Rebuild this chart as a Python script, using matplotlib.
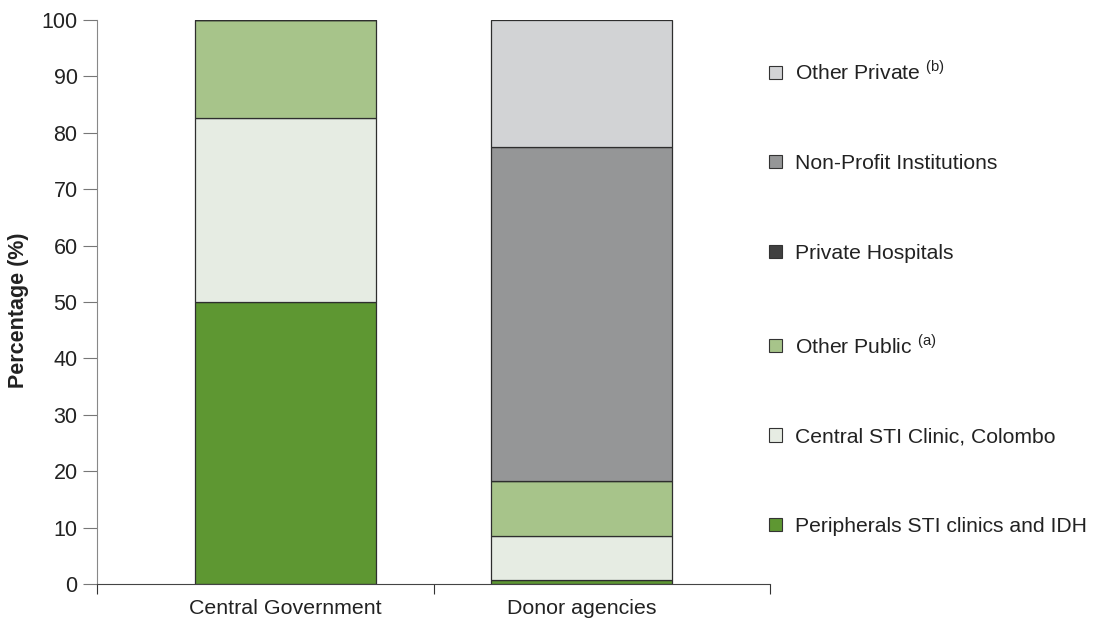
import numpy as np
import matplotlib
matplotlib.use("Agg")
import matplotlib.pyplot as plt
from matplotlib.patches import Patch

plt.rcParams['font.family'] = ['Liberation Sans', 'DejaVu Sans']
plt.rcParams['mathtext.fontset'] = 'custom'
plt.rcParams['mathtext.rm'] = 'Liberation Sans'

# data
sources = ['Central Government', 'Donor agencies']
peripheral = [50.0, 0.7]
central_sti = [32.7, 7.8]
other_public = [17.3, 9.8]
private_hosp = [0.0, 0.0]
non_profit = [0.0, 59.2]
other_private = [0.0, 22.5]

series = [
    ('Peripherals STI clinics and IDH', peripheral, '#5e9732'),
    ('Central STI Clinic, Colombo', central_sti, '#e6ece3'),
    ('Other Public $^{\\rm (a)}$', other_public, '#a7c48a'),
    ('Private Hospitals', private_hosp, '#404040'),
    ('Non-Profit Institutions', non_profit, '#959697'),
    ('Other Private $^{\\rm (b)}$', other_private, '#d2d3d5'),
]

fig = plt.figure(figsize=(10.94, 6.18), dpi=100)
ax = fig.add_axes([0.0887, 0.055, 0.6153, 0.9126])

xpos = np.array([0.56, 1.44])
bottom = np.zeros(len(sources))
for name, vals, col in series:
    vals = np.array(vals)
    ax.bar(xpos, vals, width=0.538, bottom=bottom, color=col,
           edgecolor='#2e2e2e', linewidth=0.9)
    bottom += vals

ax.set_xlim(0, 2)
ax.set_ylim(0, 100)
ax.set_yticks(range(0, 101, 10))
ax.set_xticks([0, 1, 2])
ax.set_xticklabels([])
ax.set_xticks(xpos, minor=True)
ax.set_xticklabels(sources, minor=True, fontsize=15.4, color='#222222')
ax.tick_params(axis='x', which='minor', length=0, pad=11)
ax.tick_params(axis='x', which='major', length=7, direction='out', color='#333333')
ax.tick_params(axis='y', length=10, direction='out', color='#777777',
               labelsize=15.5, labelcolor='#222222', pad=4)

for s in ['top', 'right']:
    ax.spines[s].set_visible(False)
ax.spines['left'].set_color('#888888')
ax.spines['bottom'].set_color('#444444')

ax.set_ylabel('Percentage (%)', fontsize=15.5, fontweight='bold', color='#222222')
ax.yaxis.set_label_coords(-0.101, 0.486)

handles = [Patch(facecolor=c, edgecolor='#333333', linewidth=0.8, label=n)
           for n, v, c in series[::-1]]
fig.legend(handles=handles, loc='upper left', bbox_to_anchor=(0.6855, 0.934),
           frameon=False, fontsize=15.2, handlelength=0.6, handleheight=0.6,
           handletextpad=0.65, labelspacing=3.34, labelcolor='#222222')

fig.savefig('out.png', dpi=100)
